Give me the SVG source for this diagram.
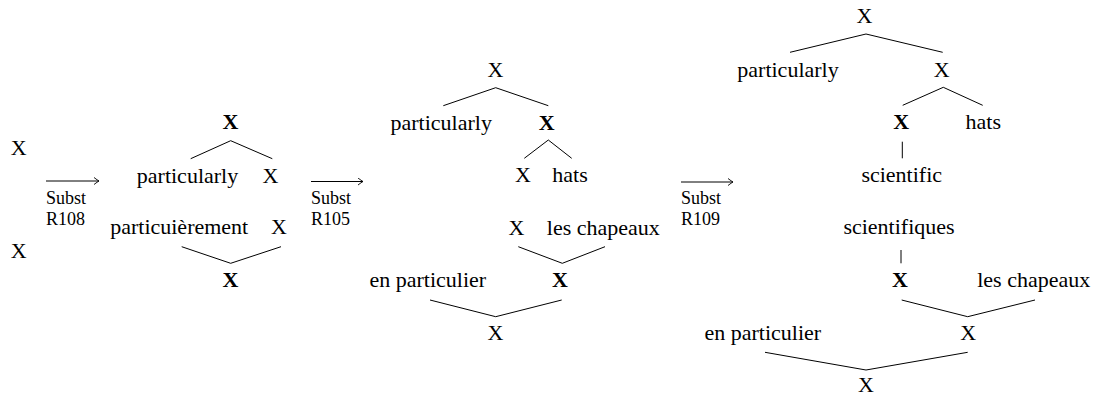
<svg xmlns="http://www.w3.org/2000/svg" width="1094" height="396" viewBox="0 0 1094 396">
  <style>
    text { font-family: "Liberation Serif", "Times New Roman", serif; font-size: 22px; fill: #000; text-anchor: middle; }
    text.b { font-weight: bold; }
    text.rule { font-size: 18px; text-anchor: start; }
    .edge { stroke: #000; stroke-width: 1; fill: none; }
    .arrow { stroke: #000; stroke-width: 1; fill: none; }
  </style>
  <defs>
    <marker id="tip" viewBox="-6 -4 7 8" refX="0" refY="0" markerWidth="7" markerHeight="8" markerUnits="userSpaceOnUse" orient="auto">
      <path d="M -5 -3.5 Q -1.5 -0.8 0 0 Q -1.5 0.8 -5 3.5" stroke="#000" stroke-width="0.9" fill="none"/>
    </marker>
  </defs>

  <rect width="1094" height="396" fill="#fff"/>

  <!-- step 0: two bare X nodes -->
  <g id="s0-x1"><text x="18.7" y="155">X</text></g>
  <g id="s0-x2"><text x="18.7" y="258">X</text></g>

  <!-- rewrite steps -->
  <g id="step1">
    <path class="arrow" d="M 46 181 H 99" marker-end="url(#tip)"/>
    <text class="rule" x="46" y="203.5">Subst</text>
    <text class="rule" x="46" y="225">R108</text>
  </g>
  <g id="step2">
    <path class="arrow" d="M 311 181.5 H 363" marker-end="url(#tip)"/>
    <text class="rule" x="311" y="203.5">Subst</text>
    <text class="rule" x="311" y="225">R105</text>
  </g>
  <g id="step3">
    <path class="arrow" d="M 681 182 H 733" marker-end="url(#tip)"/>
    <text class="rule" x="681" y="203.5">Subst</text>
    <text class="rule" x="681" y="225">R109</text>
  </g>

  <!-- tree pair 1 -->
  <g id="t1-root"><text class="b" x="230.5" y="129">X</text></g>
  <g id="t1-adv"><text x="187.5" y="183">particularly</text></g>
  <g id="t1-x"><text x="270.5" y="183">X</text></g>
  <g id="t1f-adv"><text x="179.2" y="234">particuièrement</text></g>
  <g id="t1f-x"><text x="279" y="234">X</text></g>
  <g id="t1f-root"><text class="b" x="230.5" y="287">X</text></g>

  <!-- tree pair 2 -->
  <g id="t2-root"><text x="495.5" y="77">X</text></g>
  <g id="t2-adv"><text x="441.2" y="130">particularly</text></g>
  <g id="t2-np"><text class="b" x="546.7" y="130">X</text></g>
  <g id="t2-x"><text x="523" y="181.7">X</text></g>
  <g id="t2-hats"><text x="570" y="181.7">hats</text></g>
  <g id="t2f-x"><text x="516.5" y="235">X</text></g>
  <g id="t2f-hats"><text x="603.3" y="235">les chapeaux</text></g>
  <g id="t2f-adv"><text x="427.8" y="286.7">en particulier</text></g>
  <g id="t2f-np"><text class="b" x="560" y="286.7">X</text></g>
  <g id="t2f-root"><text x="495.5" y="340">X</text></g>

  <!-- tree pair 3 -->
  <g id="t3-root"><text x="864.5" y="23.3">X</text></g>
  <g id="t3-adv"><text x="788" y="76.7">particularly</text></g>
  <g id="t3-np"><text x="941.7" y="76.7">X</text></g>
  <g id="t3-adj"><text class="b" x="901.3" y="129.3">X</text></g>
  <g id="t3-hats"><text x="983.3" y="129.3">hats</text></g>
  <g id="t3-sci"><text x="901.7" y="181.7">scientific</text></g>
  <g id="t3f-sci"><text x="899" y="234">scientifiques</text></g>
  <g id="t3f-adj"><text class="b" x="900" y="287">X</text></g>
  <g id="t3f-hats"><text x="1033.7" y="286.7">les chapeaux</text></g>
  <g id="t3f-adv"><text x="762.8" y="340">en particulier</text></g>
  <g id="t3f-np"><text x="968.3" y="340">X</text></g>
  <g id="t3f-root"><text x="866" y="391.7">X</text></g>

  <!-- tree edges -->
  <g id="connectors">
    <polyline class="edge" points="190.7,158.7 230.7,140.7 272.3,158.7"/>
    <polyline class="edge" points="181.7,246.7 230.7,263.3 281,246.7"/>

    <polyline class="edge" points="443.3,105.7 495.7,87.7 548.3,105.7"/>
    <polyline class="edge" points="524.3,158.3 548.3,140 571.7,158.3"/>
    <polyline class="edge" points="518.3,246.7 562.3,263.3 605,246.7"/>
    <polyline class="edge" points="430,300 495.7,316.7 561.7,300"/>

    <polyline class="edge" points="790,52.3 866,34 942.7,52.3"/>
    <polyline class="edge" points="902.7,105.3 943.3,87.3 982.7,105.3"/>
    <line class="edge" x1="902.3" y1="141.7" x2="902.3" y2="158.3"/>
    <line class="edge" x1="901" y1="250" x2="901" y2="263.3"/>
    <polyline class="edge" points="901.7,300 967.7,316.7 1035,300"/>
    <polyline class="edge" points="765,352.3 866,370 967.7,352.3"/>
  </g>
</svg>
